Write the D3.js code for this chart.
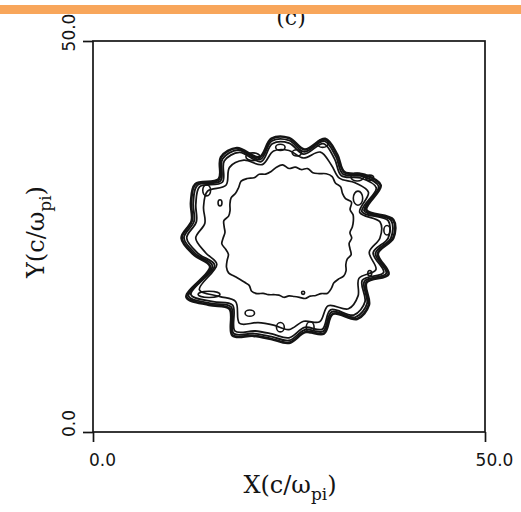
<!DOCTYPE html>
<html>
<head>
<meta charset="utf-8">
<script src="https://cdn.jsdelivr.net/npm/d3@7"></script>
<style>
  html, body { margin: 0; padding: 0; background: #fff; }
  svg { display: block; }
</style>
</head>
<body>
<div id="chart"></div>
<script>
// axis ticks
const xTicks = [0, 50];
const yTicks = [0, 50];
const tickLabels = ["0.0", "50.0"];

// ring centre (c/omega_pi)
const ringCenter = [25.0, 24.8];

// outer contour band, radius every 10 degrees (c/omega_pi)
const ringAngles = d3.range(0, 360, 10);
const ring1 = [13.3, 13.5, 10.5, 13.5, 12.6, 11.0, 12.3, 13.5, 11.5, 12.8, 12.9, 11.0,
               13.3, 13.5, 11.7, 13.8, 13.3, 12.6, 13.7, 12.3, 10.7, 15.1, 13.3, 11.8,
               14.4, 13.3, 13.1, 13.4, 12.2, 13.0, 11.2, 13.5, 13.3, 11.4, 13.5, 11.5];
const ring2 = [13.0, 13.2, 10.2, 13.2, 12.3, 10.7, 12.0, 13.2, 11.2, 12.5, 12.6, 10.7,
               13.0, 13.2, 11.4, 13.5, 13.0, 12.3, 13.4, 12.0, 10.4, 14.8, 13.0, 11.5,
               14.1, 13.0, 12.8, 13.1, 11.9, 12.7, 10.9, 13.2, 13.0, 11.1, 13.2, 11.2];
const ring3 = [12.65, 12.85, 9.9, 12.85, 11.95, 10.4, 11.65, 12.85, 10.9, 12.15, 12.25, 10.4,
               12.65, 12.85, 11.1, 13.15, 12.65, 12.0, 13.05, 11.7, 10.1, 14.45, 12.65, 11.2,
               13.75, 12.65, 12.45, 12.75, 11.6, 12.4, 10.6, 12.85, 12.65, 10.8, 12.85, 10.9];
const ring4 = [11.6, 11.8, 9.6, 11.7, 11.0, 10.0, 10.8, 11.7, 10.4, 11.2, 11.3, 10.0,
               11.5, 11.8, 10.5, 12.0, 11.6, 10.9, 11.9, 10.8, 9.8, 13.2, 11.6, 10.6,
               12.6, 11.5, 11.3, 11.7, 10.8, 11.4, 10.0, 11.8, 11.5, 10.3, 11.8, 10.4];

// inner ragged contour, every 5 degrees
const innerAngles = d3.range(0, 360, 5);
const innerRing = [8.0, 7.8, 8.2, 8.5, 8.7, 8.6, 9.2, 8.8, 8.9, 9.3, 9.2, 9.6,
                   9.5, 9.1, 8.9, 9.2, 8.9, 9.1, 8.9, 9.4, 9.2, 8.8, 8.7, 9.0,
                   8.9, 9.3, 9.5, 9.1, 8.9, 9.0, 8.7, 8.3, 8.2, 8.6, 8.4, 8.2,
                   8.4, 8.6, 8.2, 8.0, 8.4, 8.8, 8.9, 8.5, 8.2, 8.0, 7.9, 8.3,
                   8.2, 7.8, 7.7, 7.5, 7.4, 7.6, 7.4, 7.5, 7.7, 8.0, 7.9, 8.1,
                   8.2, 8.6, 8.4, 8.1, 8.2, 8.5, 8.4, 8.0, 7.9, 8.2, 7.9, 7.7];

// small closed contours inside the lobes
const islandX  = [29.3, 26.0, 20.4, 23.9, 33.7, 35.3, 14.5, 16.2, 33.8, 37.5, 35.3, 26.8, 20.0, 23.9, 27.7, 14.8];
const islandY  = [36.9, 35.7, 35.2, 36.4, 32.6, 32.5, 30.9, 29.3, 29.9, 25.8, 20.3, 17.8, 15.2, 13.4, 13.4, 17.6];
const islandRx = [0.7, 0.6, 0.9, 0.6, 0.8, 0.5, 0.5, 0.25, 0.6, 0.4, 0.25, 0.2, 0.6, 0.5, 0.5, 1.4];
const islandRy = [0.5, 0.4, 0.5, 0.4, 0.5, 0.35, 0.7, 0.4, 0.9, 0.6, 0.35, 0.2, 0.4, 0.6, 0.7, 0.4];

const width = 521, height = 512;
const margin = {top: 41, right: 36, bottom: 80, left: 93};

const svg = d3.select("#chart").append("svg")
    .attr("width", width)
    .attr("height", height);

const x = d3.scaleLinear().domain([0, 50]).range([margin.left, width - margin.right]);
const y = d3.scaleLinear().domain([0, 50]).range([height - margin.bottom, margin.top]);

const ink = "#141414";

// panel label, partly hidden under the bar
svg.append("text")
    .attr("x", 291)
    .attr("y", 25)
    .attr("text-anchor", "middle")
    .style("font-family", "DejaVu Serif")
    .style("font-size", "22px")
    .attr("fill", ink)
    .text("(c)");

svg.append("rect")
    .attr("x", 0).attr("y", 5)
    .attr("width", width).attr("height", 9)
    .attr("fill", "#f8a65b");

// frame
svg.append("rect")
    .attr("x", x(0)).attr("y", y(50))
    .attr("width", x(50) - x(0)).attr("height", y(0) - y(50))
    .attr("fill", "none")
    .attr("stroke", ink)
    .attr("stroke-width", 1.7);

// axes
const xAxis = svg.append("g")
    .attr("transform", "translate(0," + y(0) + ")")
    .call(d3.axisBottom(x).tickValues(xTicks).tickSize(10).tickSizeOuter(0)
        .tickFormat((d, i) => tickLabels[i]));
xAxis.select(".domain").remove();
xAxis.selectAll("line").attr("stroke", ink).attr("stroke-width", 1.7);
xAxis.selectAll("text")
    .attr("dx", 9)
    .attr("y", 22)
    .attr("dy", "0.71em")
    .attr("fill", ink)
    .style("font-family", "DejaVu Sans")
    .style("font-size", "17px");

const yAxis = svg.append("g")
    .attr("transform", "translate(" + x(0) + ",0)")
    .call(d3.axisLeft(y).tickValues(yTicks).tickSize(10).tickSizeOuter(0)
        .tickFormat((d, i) => tickLabels[i]));
yAxis.select(".domain").remove();
yAxis.selectAll("line").attr("stroke", ink).attr("stroke-width", 1.7);
yAxis.selectAll("text")
    .attr("x", null).attr("dy", null)
    .attr("text-anchor", "middle")
    .attr("transform", "translate(-18,-9) rotate(-90)")
    .attr("fill", ink)
    .style("font-family", "DejaVu Sans")
    .style("font-size", "17px");

// axis titles
const xTitle = svg.append("text")
    .attr("x", 290)
    .attr("y", 493)
    .attr("text-anchor", "middle")
    .style("font-family", "DejaVu Serif")
    .style("font-size", "24px")
    .attr("fill", ink);
xTitle.append("tspan").text("X(c/\u03c9");
xTitle.append("tspan").attr("dy", 7).style("font-size", "17px").text("pi");
xTitle.append("tspan").attr("dy", -7).text(")");

const yTitle = svg.append("text")
    .attr("transform", "translate(44,232) rotate(-90)")
    .attr("text-anchor", "middle")
    .style("font-family", "DejaVu Serif")
    .style("font-size", "24px")
    .attr("fill", ink);
yTitle.append("tspan").text("Y(c/\u03c9");
yTitle.append("tspan").attr("dy", 7).style("font-size", "17px").text("pi");
yTitle.append("tspan").attr("dy", -7).text(")");

// contours
function ringPoints(angles, radii) {
    return angles.map((a, i) => {
        const t = a * Math.PI / 180;
        return [x(ringCenter[0] + radii[i] * Math.cos(t)),
                y(ringCenter[1] + radii[i] * Math.sin(t))];
    });
}

const smooth = d3.line().curve(d3.curveCatmullRomClosed.alpha(0.5));

const contours = [
    {pts: ringPoints(ringAngles, ring1), w: 2.7},
    {pts: ringPoints(ringAngles, ring2), w: 1.9},
    {pts: ringPoints(ringAngles, ring3), w: 1.8},
    {pts: ringPoints(ringAngles, ring4), w: 1.7},
    {pts: ringPoints(innerAngles, innerRing), w: 1.7}
];

svg.append("g")
    .selectAll("path")
    .data(contours)
    .join("path")
    .attr("d", d => smooth(d.pts))
    .attr("fill", "none")
    .attr("stroke", ink)
    .attr("stroke-width", d => d.w)
    .attr("stroke-linejoin", "round");

svg.append("g")
    .selectAll("ellipse")
    .data(islandX)
    .join("ellipse")
    .attr("cx", (d, i) => x(d))
    .attr("cy", (d, i) => y(islandY[i]))
    .attr("rx", (d, i) => x(islandRx[i]) - x(0))
    .attr("ry", (d, i) => y(0) - y(islandRy[i]))
    .attr("fill", "none")
    .attr("stroke", ink)
    .attr("stroke-width", 1.6);
</script>
</body>
</html>
